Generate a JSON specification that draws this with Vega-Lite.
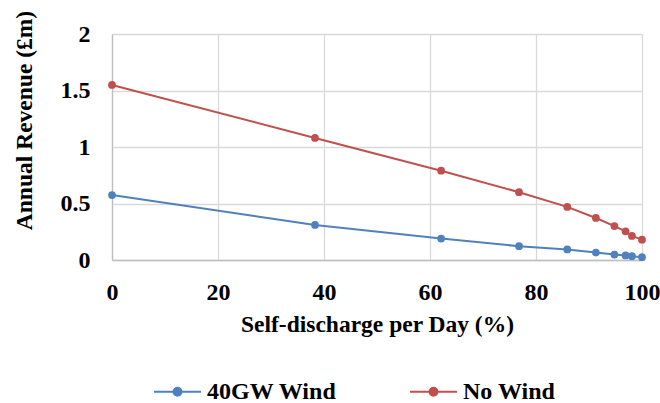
{
  "$schema": "https://vega.github.io/schema/vega-lite/v6.json",
  "width": 530,
  "height": 226,
  "autosize": {"type": "none"},
  "padding": {"left": 112, "top": 34, "right": 18, "bottom": 143},
  "background": "white",
  "config": {
    "font": "Liberation Serif",
    "view": {"stroke": null},
    "axis": {
      "labelFont": "Liberation Serif",
      "labelFontWeight": "bold",
      "labelFontSize": 24,
      "labelColor": "#000000",
      "labelFlush": false,
      "labelOverlap": false,
      "titleFont": "Liberation Serif",
      "titleFontWeight": "bold",
      "titleFontSize": 23.5,
      "titleColor": "#000000",
      "gridColor": "#D9D9D9",
      "gridWidth": 1.3,
      "domainColor": "#BFBFBF",
      "domainWidth": 1.3,
      "ticks": false
    },
    "legend": {
      "labelFont": "Liberation Serif",
      "labelFontWeight": "bold",
      "labelFontSize": 24,
      "labelColor": "#000000"
    }
  },
  "data": {
    "values": [
      {"x": 0, "y": 0.575, "series": "40GW Wind"},
      {"x": 38.3, "y": 0.31, "series": "40GW Wind"},
      {"x": 62.1, "y": 0.19, "series": "40GW Wind"},
      {"x": 76.8, "y": 0.122, "series": "40GW Wind"},
      {"x": 85.9, "y": 0.093, "series": "40GW Wind"},
      {"x": 91.3, "y": 0.066, "series": "40GW Wind"},
      {"x": 94.8, "y": 0.048, "series": "40GW Wind"},
      {"x": 96.9, "y": 0.04, "series": "40GW Wind"},
      {"x": 98.1, "y": 0.034, "series": "40GW Wind"},
      {"x": 100, "y": 0.025, "series": "40GW Wind"},
      {"x": 0, "y": 1.549, "series": "No Wind"},
      {"x": 38.3, "y": 1.08, "series": "No Wind"},
      {"x": 62.1, "y": 0.79, "series": "No Wind"},
      {"x": 76.8, "y": 0.60, "series": "No Wind"},
      {"x": 85.9, "y": 0.47, "series": "No Wind"},
      {"x": 91.3, "y": 0.372, "series": "No Wind"},
      {"x": 94.8, "y": 0.30, "series": "No Wind"},
      {"x": 96.9, "y": 0.254, "series": "No Wind"},
      {"x": 98.1, "y": 0.213, "series": "No Wind"},
      {"x": 100, "y": 0.18, "series": "No Wind"}
    ]
  },
  "mark": {"type": "line", "strokeWidth": 2, "point": {"filled": true, "size": 60, "opacity": 1}},
  "encoding": {
    "x": {
      "field": "x",
      "type": "quantitative",
      "scale": {"domain": [0, 100], "nice": false},
      "axis": {"values": [0, 20, 40, 60, 80, 100], "title": "Self-discharge per Day (%)", "labelPadding": 20, "titlePadding": 8}
    },
    "y": {
      "field": "y",
      "type": "quantitative",
      "scale": {"domain": [0, 2], "nice": false},
      "axis": {"values": [0, 0.5, 1, 1.5, 2], "format": ".1~f", "title": "Annual Revenue (£m)", "labelPadding": 22, "titlePadding": 24, "titleY": 86}
    },
    "color": {
      "field": "series",
      "type": "nominal",
      "scale": {"domain": ["40GW Wind", "No Wind"], "range": ["#4F81BD", "#C0504D"]},
      "legend": {
        "title": null,
        "orient": "none",
        "legendX": 41,
        "legendY": 333,
        "direction": "horizontal",
        "columnPadding": 69,
        "symbolType": "M-1,0L1,0M-0.17,0A0.17,0.17,0,1,1,0.17,0A0.17,0.17,0,1,1,-0.17,0Z",
        "symbolSize": 2209,
        "symbolStrokeWidth": 2,
        "labelOffset": 5,
        "encode": {"symbols": {"update": {"fill": {"scale": "color", "field": "value"}}}}
      }
    }
  }
}
